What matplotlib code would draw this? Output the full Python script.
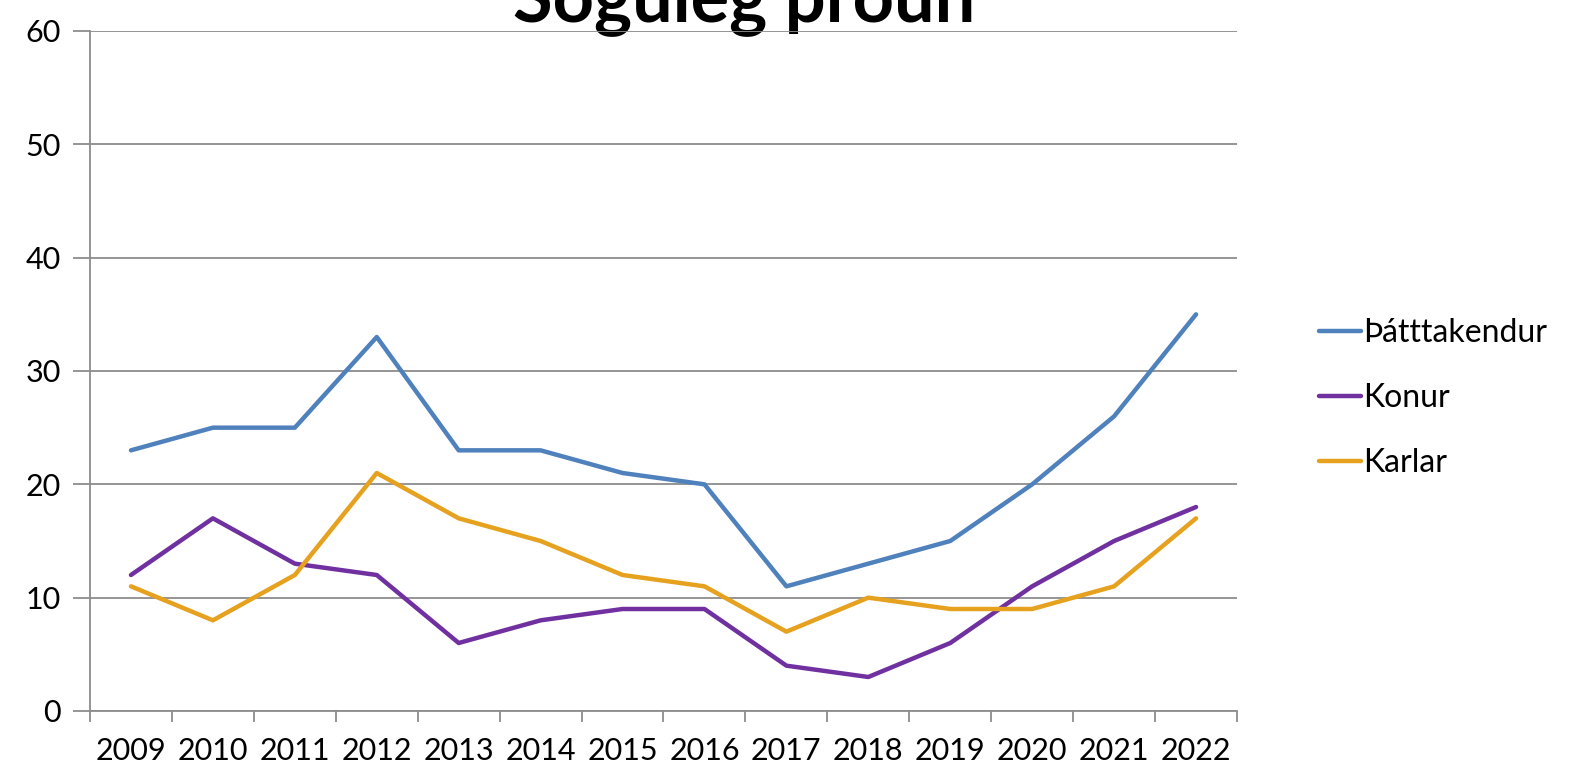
import numpy as np
import matplotlib.pyplot as plt
from matplotlib.ticker import FixedLocator

years = ['2009', '2010', '2011', '2012', '2013', '2014', '2015',
         '2016', '2017', '2018', '2019', '2020', '2021', '2022']
thatttakendur = [23, 25, 25, 33, 23, 23, 21, 20, 11, 13, 15, 20, 26, 35]
konur = [12, 17, 13, 12, 6, 8, 9, 9, 4, 3, 6, 11, 15, 18]
karlar = [11, 8, 12, 21, 17, 15, 12, 11, 7, 10, 9, 9, 11, 17]

plt.rcParams['font.family'] = ['Lato', 'DejaVu Sans']

fig = plt.figure(figsize=(15.74, 7.7), dpi=100)
ax = fig.add_axes([90 / 1574, 59 / 770, 1147 / 1574, 680 / 770])
ax.set_zorder(1)
ax.patch.set_alpha(0)

x = np.arange(len(years))
ax.plot(x, thatttakendur, color='#4F81BD', lw=3.2, label='Þátttakendur', solid_capstyle='round')
ax.plot(x, konur, color='#7030A0', lw=3.2, label='Konur', solid_capstyle='round')
ax.plot(x, karlar, color='#E6A11F', lw=3.2, label='Karlar', solid_capstyle='round')

ax.set_xlim(-0.5, len(years) - 0.5)
ax.set_ylim(0, 60)
ax.set_yticks(range(0, 61, 10))
ax.yaxis.grid(True, color='#8c8c8c', lw=1.3)
ax.set_axisbelow(True)
ax.set_xticks(x)
ax.set_xticklabels(years)
ax.xaxis.set_minor_locator(FixedLocator(np.arange(-0.5, len(years), 1)))
ax.tick_params(axis='x', which='major', length=0, pad=19, labelsize=22)
ax.tick_params(axis='x', which='minor', length=8, width=1.3, color='#8c8c8c')
ax.tick_params(axis='y', length=12, width=1.3, color='#8c8c8c', pad=9, labelsize=22)
for s in ['top', 'right']:
    ax.spines[s].set_visible(False)
for s in ['left', 'bottom']:
    ax.spines[s].set_color('#8c8c8c')
    ax.spines[s].set_linewidth(1.3)

# titill er klipptur efst eins og í fyrirmyndinni
fig.text(744 / 1574, 1 - 21 / 770, 'Söguleg þróun', ha='center', va='baseline',
         fontsize=52, fontweight='bold', zorder=0)

ax.legend(loc='center left', bbox_to_anchor=(1.058, 0.46), frameon=False,
          fontsize=23, handlelength=1.3, handletextpad=0.08, labelspacing=1.1,
          borderpad=0)

fig.savefig('out.png', dpi=100)
